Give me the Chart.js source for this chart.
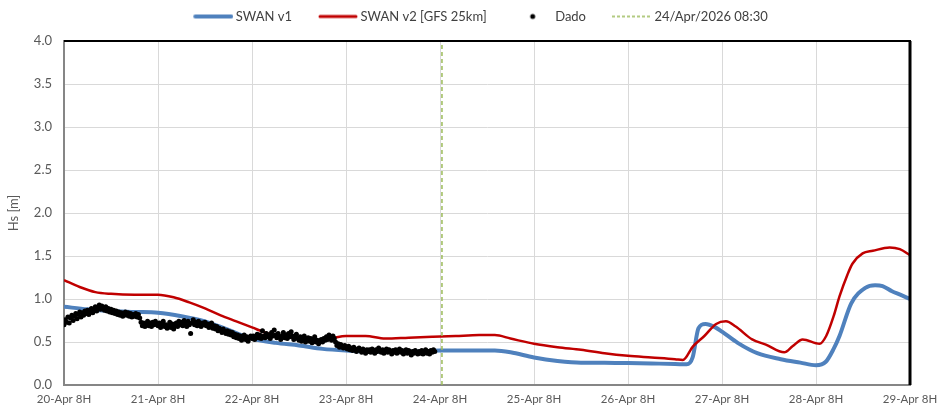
<!DOCTYPE html>
<html>
<head>
<meta charset="utf-8">
<script src="https://cdn.jsdelivr.net/npm/chart.js@4.4.1/dist/chart.umd.min.js"></script>
<style>
html,body{margin:0;padding:0;background:#fff;}
#wrap{width:939px;height:409px;position:relative;}
</style>
</head>
<body>
<div id="wrap"><canvas id="c" width="939" height="409"></canvas></div>
<script>
// X axis: hours since 20-Apr 08:00
const tickLabels = ['20-Apr 8H','21-Apr 8H','22-Apr 8H','23-Apr 8H','24-Apr 8H','25-Apr 8H','26-Apr 8H','27-Apr 8H','28-Apr 8H','29-Apr 8H'];
const seriesNames = ['SWAN v1','SWAN v2 [GFS 25km]','Dado','24/Apr/2026 08:30'];

// SWAN v1 (hour, Hs)
const v1Hours = [0,6,12,18,24,30,36,42,48,54,60,66,72,78,84,90,96,102,106,110,114,120,126,132,138,144,150,156,159,160.5,162,163.8,166.3,168,172,177,183,188,192,194.5,196.5,198,201,204.6,207.1,209,211.4,213.5,216];
const v1Values = [0.91,0.88,0.86,0.85,0.84,0.80,0.74,0.64,0.54,0.49,0.46,0.42,0.40,0.39,0.39,0.39,0.40,0.40,0.40,0.40,0.38,0.32,0.28,0.26,0.26,0.255,0.25,0.245,0.24,0.32,0.66,0.71,0.67,0.62,0.49,0.37,0.30,0.26,0.23,0.27,0.42,0.57,0.95,1.13,1.16,1.15,1.09,1.05,1.00];

// SWAN v2 [GFS 25km]
const v2Hours = [0,4,8,12,18,24,28,32,36,40,44,48,52,56,60,64,66,69,72,77,82,88,94,100,106,110,114,120,126,132,138,144,150,156,158,160.6,163.5,166.5,169,171.5,175.7,179.2,183.9,186,188.6,192.9,194.6,196.5,198,200,201.3,203.9,206.5,210.8,213.4,216];
const v2Values = [1.22,1.14,1.08,1.06,1.05,1.05,1.02,0.96,0.89,0.81,0.74,0.67,0.60,0.56,0.54,0.51,0.52,0.55,0.57,0.57,0.54,0.55,0.56,0.57,0.58,0.58,0.54,0.48,0.44,0.41,0.37,0.34,0.32,0.30,0.29,0.45,0.57,0.71,0.74,0.68,0.53,0.47,0.38,0.45,0.53,0.48,0.57,0.80,1.03,1.28,1.41,1.53,1.56,1.60,1.58,1.51];

// Dado (observations), every 20 minutes from hour 0
const obsStep = 1 / 3;
const obsValues = [
0.70,0.76,0.73,0.79,0.72,0.78,0.81,0.75,0.80,0.83,0.77,0.82,0.85,0.79,0.84,0.81,0.86,0.83,
0.87,0.82,0.86,0.89,0.84,0.88,0.91,0.86,0.90,0.93,0.88,0.92,0.89,0.87,0.91,0.86,0.89,0.85,
0.88,0.84,0.87,0.83,0.86,0.82,0.85,0.81,0.84,0.80,0.83,0.85,0.81,0.84,0.80,0.83,0.79,0.82,
0.80,0.83,0.79,0.82,0.78,0.73,0.69,0.72,0.68,0.71,0.74,0.69,0.72,0.68,0.73,0.70,0.74,0.71,
0.69,0.72,0.67,0.71,0.74,0.68,0.70,0.66,0.69,0.73,0.67,0.71,0.65,0.69,0.72,0.68,0.74,0.70,
0.73,0.69,0.75,0.71,0.68,0.74,0.70,0.60,0.72,0.76,0.70,0.73,0.69,0.74,0.71,0.68,0.72,0.70,
0.73,0.69,0.71,0.67,0.70,0.72,0.66,0.69,0.65,0.68,0.63,0.66,0.64,0.61,0.65,0.62,0.60,0.63,
0.59,0.62,0.58,0.61,0.56,0.59,0.55,0.58,0.54,0.57,0.52,0.55,0.58,0.53,0.56,0.51,0.55,0.57,
0.54,0.57,0.53,0.56,0.59,0.55,0.58,0.54,0.63,0.57,0.55,0.60,0.56,0.58,0.54,0.61,0.57,0.64,
0.58,0.55,0.60,0.56,0.53,0.57,0.61,0.55,0.58,0.54,0.60,0.56,0.62,0.57,0.53,0.56,0.59,0.54,
0.52,0.56,0.51,0.54,0.57,0.50,0.53,0.55,0.51,0.54,0.49,0.53,0.56,0.50,0.52,0.48,0.51,0.53,
0.50,0.54,0.52,0.56,0.53,0.58,0.55,0.52,0.57,0.54,0.50,0.46,0.48,0.44,0.47,0.45,0.43,0.46,
0.44,0.42,0.45,0.41,0.43,0.40,0.44,0.42,0.39,0.41,0.43,0.40,0.38,0.42,0.40,0.37,0.41,0.39,
0.41,0.38,0.42,0.40,0.37,0.41,0.39,0.43,0.40,0.38,0.41,0.37,0.40,0.42,0.38,0.41,0.39,0.36,
0.40,0.38,0.41,0.37,0.39,0.42,0.38,0.40,0.36,0.39,0.41,0.37,0.40,0.38,0.35,0.39,0.37,0.40,
0.38,0.36,0.39,0.37,0.40,0.36,0.38,0.41,0.37,0.39,0.36,0.40,0.38,0.41,0.39
];

// Forecast issue time marker (hours since 20-Apr 08:00)
const markerHour = [96.5, 96.5];
const markerHs = [0, 4];

const xMin = 0, xMax = 216, xStep = 24;
const yMin = 0, yMax = 4, yStep = 0.5;

const toXY = (xs, ys) => xs.map((x, i) => ({x: x, y: ys[i]}));
const obsPoints = obsValues.map((v, i) => ({x: i * obsStep, y: v}));

// legend symbols: 60px canvases centred on a 52px legend box; visible symbol spans box x 16..56
function symbol(kind, color) {
  const c = document.createElement('canvas');
  c.width = 60; c.height = 8;
  const g = c.getContext('2d');
  g.strokeStyle = color; g.fillStyle = color;
  if (kind === 'line') {
    g.lineWidth = 4; g.lineCap = 'round';
    g.beginPath(); g.moveTo(22, 4); g.lineTo(58, 4); g.stroke();
  } else if (kind === 'line2') {
    g.lineWidth = 3; g.lineCap = 'round';
    g.beginPath(); g.moveTo(22, 4); g.lineTo(58, 4); g.stroke();
  } else if (kind === 'dot') {
    g.beginPath(); g.arc(40, 4, 2.5, 0, Math.PI * 2); g.fill();
  } else {
    g.lineWidth = 1.5; g.setLineDash([3, 2]);
    g.beginPath(); g.moveTo(20, 4); g.lineTo(60, 4); g.stroke();
  }
  return c;
}
const legendSymbols = [symbol('line', '#4F81BD'), symbol('line2', '#C00000'), symbol('dot', '#000'), symbol('dash', '#9BBB59')];

const frame = {
  id: 'frame',
  afterDraw(chart) {
    const a = chart.chartArea, g = chart.ctx;
    g.save();
    g.strokeStyle = '#000';
    g.lineWidth = 2;
    g.beginPath(); g.moveTo(a.left, a.top); g.lineTo(a.right + 1, a.top); g.stroke();
    g.lineWidth = 3;
    g.beginPath(); g.moveTo(a.right, a.top); g.lineTo(a.right, a.bottom); g.stroke();
    g.restore();
  }
};

const FONT = 'Lato, "Open Sans", "DejaVu Sans", sans-serif';

new Chart(document.getElementById('c'), {
  type: 'line',
  data: {
    datasets: [
      {label: seriesNames[0], data: toXY(v1Hours, v1Values), borderColor: '#4F81BD', backgroundColor: '#4F81BD', borderWidth: 4, pointRadius: 0, cubicInterpolationMode: 'monotone', order: 4},
      {label: seriesNames[1], data: toXY(v2Hours, v2Values), borderColor: '#C00000', backgroundColor: '#C00000', borderWidth: 2.5, pointRadius: 0, cubicInterpolationMode: 'monotone', order: 3},
      {label: seriesNames[2], data: obsPoints, showLine: false, borderColor: '#000', backgroundColor: '#000', pointRadius: 2.5, pointBorderWidth: 0, order: 1},
      {label: seriesNames[3], data: toXY(markerHour, markerHs), borderColor: '#9BBB59', backgroundColor: '#9BBB59', borderWidth: 1.5, borderDash: [4, 3], pointRadius: 0, order: 2}
    ]
  },
  options: {
    responsive: false,
    animation: false,
    layout: {padding: {left: 6, top: 0, right: 0, bottom: 0}},
    plugins: {
      tooltip: {enabled: false},
      legend: {
        position: 'top',
        labels: {
          usePointStyle: true,
          pointStyleWidth: 52,
          boxHeight: 8,
          padding: 10,
          color: '#404040',
          font: {family: FONT, size: 13},
          sort: (a, b) => a.datasetIndex - b.datasetIndex,
          generateLabels(chart) {
            const items = Chart.defaults.plugins.legend.labels.generateLabels(chart);
            items.forEach((it) => { it.pointStyle = legendSymbols[it.datasetIndex]; });
            return items;
          }
        }
      }
    },
    scales: {
      x: {
        type: 'linear', min: xMin, max: xMax,
        ticks: {stepSize: xStep, color: '#595959', font: {family: FONT, size: 11.5}, padding: 7, maxRotation: 0,
          callback: (v) => tickLabels[Math.round(v / xStep)]},
        grid: {color: '#D9D9D9', lineWidth: 1, drawTicks: false},
        border: {color: '#868686', width: 2},
        afterFit(s) { s.height = 24; s.paddingRight = 29; }
      },
      xTop: {
        type: 'linear', position: 'top', display: true, min: xMin, max: xMax,
        ticks: {display: false}, grid: {display: false}, border: {display: false},
        afterFit(s) { s.height = 8; s.paddingLeft = 0; s.paddingRight = 0; }
      },
      y: {
        min: yMin, max: yMax,
        ticks: {stepSize: yStep, color: '#595959', font: {family: FONT, size: 13}, padding: 12,
          callback: (v) => v.toFixed(1)},
        grid: {color: '#D9D9D9', lineWidth: 1, drawTicks: false},
        border: {color: '#868686', width: 2},
        title: {display: true, text: 'Hs [m]', color: '#595959', font: {family: FONT, size: 13}, padding: {top: 0, bottom: 4}},
        afterFit(s) { s.width = 58; }
      }
    }
  },
  plugins: [frame]
});
</script>
</body>
</html>
